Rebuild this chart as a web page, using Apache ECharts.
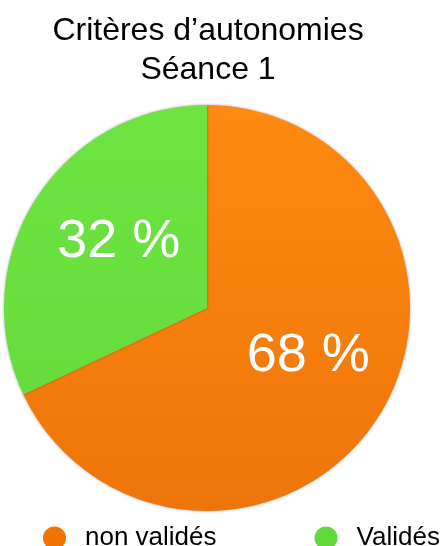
<!DOCTYPE html>
<html><head><meta charset="utf-8">
<script src="https://cdn.jsdelivr.net/npm/echarts@6/dist/echarts.min.js"></script>
<style>html,body{margin:0;padding:0;background:#fff}#c{width:443px;height:546px}</style>
</head><body><div id="c"></div>
<script>
const categories = ['non validés', 'Validés'];
const values = [68, 32];
const titleLines = ['Critères d\u2019autonomies', 'Séance 1'];

const colors = [
  {type:'linear',x:0,y:0,x2:0,y2:1,colorStops:[{offset:0,color:'#FF8A10'},{offset:1,color:'#EE750A'}]},
  {type:'linear',x:0,y:0,x2:0,y2:1,colorStops:[{offset:0,color:'#6DE442'},{offset:1,color:'#66DD3C'}]}
];
const legendColors = ['#F07304', '#62D93A'];
const labelShift = [[13,-8],[0,-10]];

const chart = echarts.init(document.getElementById('c'), null, {renderer:'canvas'});
chart.setOption({
  animation:false,
  title:{text:titleLines.join('\n'), left:208, textAlign:'center', top:12, padding:0,
    textStyle:{fontFamily:'Liberation Sans', fontSize:32, fontWeight:'normal', color:'#000', lineHeight:39}},
  legend:{top:525, left:43, padding:0, itemGap:98, icon:'circle', itemWidth:23, itemHeight:23,
    data:categories.map((n,i)=>({name:n, itemStyle:{color:legendColors[i]}})),
    textStyle:{fontFamily:'Liberation Sans', fontSize:26, color:'#000', padding:[0,0,0,14]}},
  series:[{
    type:'pie', center:[207,308], radius:[0,203], startAngle:90, clockwise:true,
    data:categories.map((n,i)=>({name:n, value:values[i], itemStyle:{color:colors[i]}})),
    itemStyle:{borderWidth:0, shadowBlur:3, shadowColor:'rgba(0,0,0,0.35)'},
    label:{show:true, position:'inside', formatter:'{c} %', color:'#fff',
      fontFamily:'Liberation Sans', fontSize:54},
    labelLayout:(p)=>({dx:labelShift[p.dataIndex][0], dy:labelShift[p.dataIndex][1]}),
    labelLine:{show:false},
    emphasis:{disabled:true}
  }]
});
</script></body></html>
